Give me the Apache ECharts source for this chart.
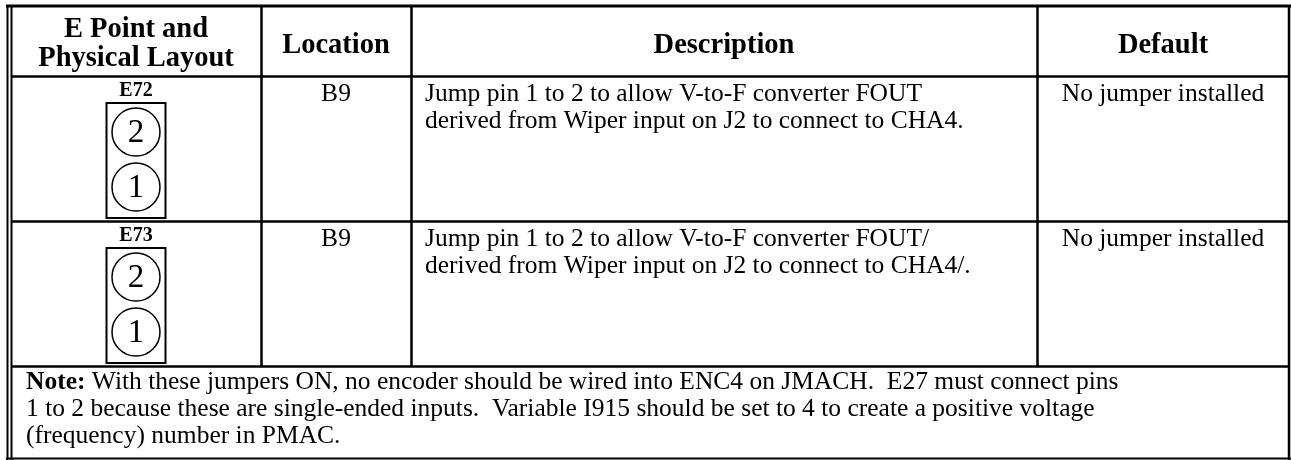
<!DOCTYPE html>
<html>
<head>
<meta charset="utf-8">
<script src="https://cdn.jsdelivr.net/npm/echarts@6/dist/echarts.min.js"></script>
<style>
html,body{margin:0;padding:0;background:#fff;}
#chart{width:1291px;height:460px;}
</style>
</head>
<body>
<div id="chart"></div>
<script>
// ---- data ----
const headers = ['E Point and\nPhysical Layout', 'Location', 'Description', 'Default'];
const ePoints = ['E72', 'E73'];
const locations = ['B9', 'B9'];
const descriptions = [
  'Jump pin 1 to 2 to allow V-to-F converter FOUT\nderived from Wiper input on J2 to connect to CHA4.',
  'Jump pin 1 to 2 to allow V-to-F converter FOUT/\nderived from Wiper input on J2 to connect to CHA4/.'
];
const defaults = ['No jumper installed', 'No jumper installed'];
const pins = ['2', '1'];
const noteLabel = 'Note:';
const noteLines = [
  ' With these jumpers ON, no encoder should be wired into ENC4 on JMACH.  E27 must connect pins',
  '1 to 2 because these are single-ended inputs.  Variable I915 should be set to 4 to create a positive voltage',
  '(frequency) number in PMAC.'
];

// ---- layout ----
const colX = [11, 261, 411, 1037, 1289];
const rowY = [6, 76, 221, 366, 458];
const FONT = '"Liberation Serif", "Times New Roman", serif';
const BODY = 25.5, LH = 27, HEAD = 28.5;

const g = [];
function line(x1, y1, x2, y2, w) {
  g.push({type: 'line', shape: {x1, y1, x2, y2}, style: {stroke: '#000', lineWidth: w}, silent: true});
}
function text(t, x, y, opts) {
  g.push({type: 'text', x, y, silent: true, style: Object.assign({
    text: t, fill: '#000', font: BODY + 'px ' + FONT, textAlign: 'center', textVerticalAlign: 'top', lineHeight: LH
  }, opts || {})});
}

// borders
line(6, 6, 1291, 6, 3);
line(7.5, 5, 7.5, 460, 2);
line(11.5, 5, 11.5, 460, 2);
line(1289, 5, 1289, 460, 2.5);
line(6, 458.5, 1291, 458.5, 2);
for (let i = 1; i <= 3; i++) line(11, rowY[i] + 0.5, 1289, rowY[i] + 0.5, 2.5);
for (let i = 1; i <= 3; i++) line(colX[i] + 0.5, 6, colX[i] + 0.5, rowY[3], 2.5);

// header
headers.forEach((h, i) => {
  const cx = (colX[i] + colX[i + 1]) / 2;
  const two = h.indexOf('\n') >= 0;
  text(h, cx, two ? 44.5 : 45.5, {font: 'bold ' + HEAD + 'px ' + FONT, textVerticalAlign: 'middle', lineHeight: 29});
});

// data rows
ePoints.forEach((ep, r) => {
  const top = rowY[r + 1];
  const cx0 = (colX[0] + colX[1]) / 2;
  text(ep, cx0, top + 15, {font: 'bold 20px ' + FONT, textVerticalAlign: 'middle'});
  g.push({type: 'rect', silent: true, shape: {x: cx0 - 29.5, y: top + 27, width: 59, height: 115},
    style: {fill: 'none', stroke: '#000', lineWidth: 2}});
  pins.forEach((p, k) => {
    const cy = top + 56 + k * 55;
    g.push({type: 'circle', silent: true, shape: {cx: cx0, cy, r: 24},
      style: {fill: 'none', stroke: '#000', lineWidth: 1.5}});
    text(p, cx0, cy + 1, {font: '33px ' + FONT, textVerticalAlign: 'middle'});
  });
  text(locations[r], (colX[1] + colX[2]) / 2, top + 5);
  text(descriptions[r], colX[2] + 14, top + 5, {textAlign: 'left'});
  text(defaults[r], (colX[3] + colX[4]) / 2, top + 5);
});

// note
g.push({type: 'text', x: 26, y: rowY[3] + 3, silent: true, style: {
  text: '{b|' + noteLabel + '}' + noteLines[0] + '\n' + noteLines[1] + '\n' + noteLines[2],
  fill: '#000', font: BODY + 'px ' + FONT, textAlign: 'left', textVerticalAlign: 'top', lineHeight: LH,
  rich: {b: {font: 'bold ' + BODY + 'px ' + FONT, fill: '#000', lineHeight: LH}}
}});

const chart = echarts.init(document.getElementById('chart'), null, {renderer: 'canvas'});
chart.setOption({backgroundColor: '#fff', animation: false, graphic: {elements: g}});
</script>
</body>
</html>
